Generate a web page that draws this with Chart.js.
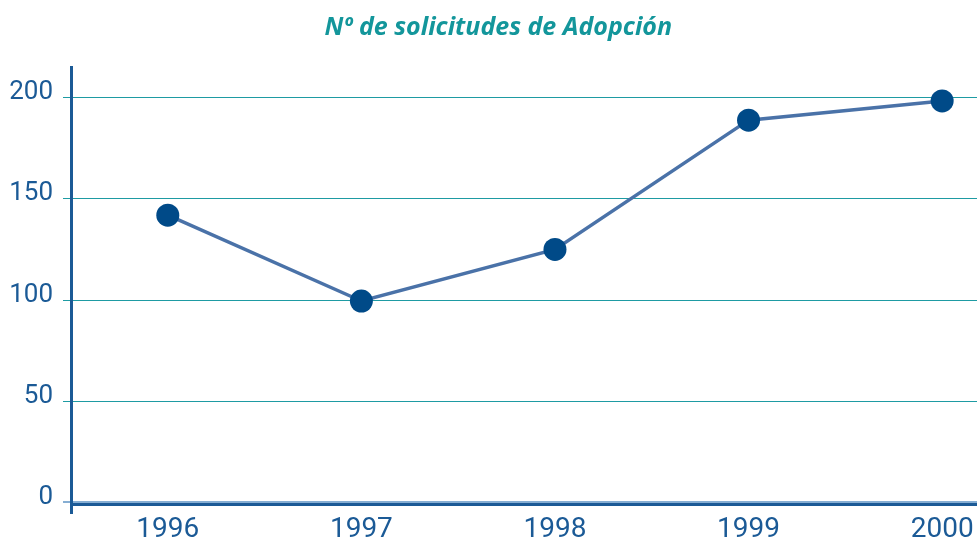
<!DOCTYPE html>
<html>
<head>
<meta charset="utf-8">
<script src="https://cdn.jsdelivr.net/npm/chart.js@4"></script>
<style>
html,body{margin:0;padding:0;background:#fff;}
#wrap{width:977px;height:540px;position:relative;}
</style>
</head>
<body>
<div id="wrap"><canvas id="c" width="977" height="540"></canvas></div>
<script>
const years = [1996, 1997, 1998, 1999, 2000];
const solicitudes = [142, 99.5, 125, 189, 198.5];
const yTicks = [0, 50, 100, 150, 200];
const titleText = 'Nº de solicitudes de Adopción';

const zeroLine = {
  id: 'zeroLine',
  beforeDatasetsDraw(chart) {
    const ctx = chart.ctx, y = chart.scales.y, a = chart.chartArea;
    const py = y.getPixelForValue(0) + 2.5;
    ctx.save();
    ctx.strokeStyle = '#1B5A96';
    ctx.lineWidth = 3;
    ctx.beginPath();
    ctx.moveTo(a.left, py);
    ctx.lineTo(a.right, py);
    ctx.stroke();
    ctx.restore();
  }
};

new Chart(document.getElementById('c'), {
  type: 'line',
  data: {
    datasets: [{
      data: years.map((yr, i) => ({x: yr, y: solicitudes[i]})),
      borderColor: '#4A72A8',
      borderWidth: 3.5,
      pointRadius: 11.5,
      pointBackgroundColor: '#004A88',
      pointBorderColor: '#004A88',
      pointBorderWidth: 0,
      tension: 0,
      fill: false,
      clip: false
    }]
  },
  options: {
    responsive: false,
    animation: false,
    events: [],
    layout: {autoPadding: false, padding: {left: 0, right: 0, top: 0, bottom: 0}},
    plugins: {
      legend: {display: false},
      tooltip: {enabled: false},
      title: {
        display: true,
        text: '\u00a0\u00a0\u00a0' + titleText,
        color: '#13969B',
        font: {family: 'Open Sans', size: 25, style: 'italic', weight: 'bold'},
        padding: {top: 13, bottom: 24}
      }
    },
    scales: {
      x: {
        type: 'linear',
        min: 1995.5,
        max: 2000.18,
        afterBuildTicks: (s) => { s.ticks = years.map(v => ({value: v})); },
        afterFit: (s) => { s.height = 27; s.paddingLeft = 0; s.paddingRight = 0; },
        grid: {display: false},
        border: {display: false},
        ticks: {
          color: '#1B5A96',
          font: {family: 'Roboto', size: 28},
          padding: -8,
          maxRotation: 0,
          autoSkip: false,
          callback: (v) => String(v)
        }
      },
      y: {
        type: 'linear',
        min: -5.4,
        max: 215.3,
        afterBuildTicks: (s) => { s.ticks = yTicks.map(v => ({value: v})); },
        afterFit: (s) => { s.width = 71; s.paddingTop = 0; s.paddingBottom = 0; },
        border: {display: true, color: '#1B5A96', width: 3},
        grid: {
          color: (c) => c.tick && c.tick.value === 0 ? '#86AED3' : '#1E9BA3',
          lineWidth: (c) => c.tick && c.tick.value === 0 ? 2 : 1,
          tickLength: 8,
          drawTicks: true
        },
        ticks: {
          color: '#1B5A96',
          font: {family: 'Roboto', size: 26, lineHeight: '10px'},
          padding: 10,
          callback: (v) => [String(v), '']
        }
      }
    }
  },
  plugins: [zeroLine]
});
</script>
</body>
</html>
